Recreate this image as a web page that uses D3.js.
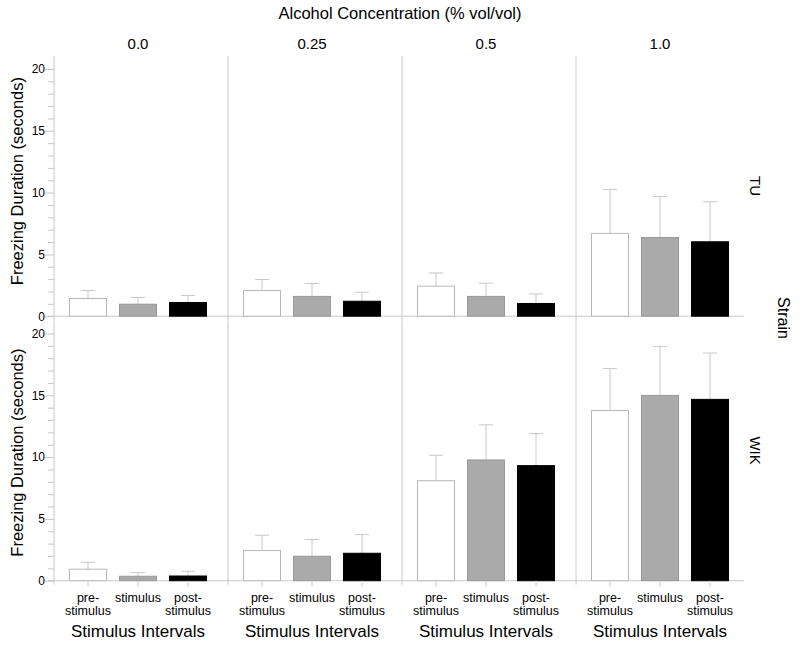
<!DOCTYPE html>
<html>
<head>
<meta charset="utf-8">
<script src="https://cdn.jsdelivr.net/npm/d3@7"></script>
<style>
body{margin:0;background:#fff;}
svg{font-family:"Liberation Sans",Arial,sans-serif;}
</style>
</head>
<body>
<div id="grafico"></div>
<script>

// DATOS
const concentraciones = ["0.0","0.25","0.5","1.0"];
const cepas = ["TU","WIK"];
const intervalos = ["pre-stimulus","stimulus","post-stimulus"];
const etiquetasIntervalos = [["pre-","stimulus"],["stimulus"],["post-","stimulus"]];
const marcasY = [0,5,10,15,20];

// medias (segundos) por concentracion, orden pre / stimulus / post
const mediasTU = [
[1.43,0.97,1.11],
[2.08,1.60,1.21],
[2.43,1.60,1.03],
[6.70,6.37,6.02]
];
const erroresTU = [
[0.65,0.54,0.57],
[0.89,1.05,0.73],
[1.07,1.07,0.77],
[3.56,3.32,3.24]
];
const mediasWIK = [
[0.93,0.36,0.38],
[2.44,1.98,2.22],
[8.09,9.77,9.31],
[13.77,14.99,14.67]
];
const erroresWIK = [
[0.56,0.29,0.38],
[1.24,1.35,1.51],
[2.06,2.84,2.59],
[3.39,3.95,3.75]
];

const medias = {TU:mediasTU, WIK:mediasWIK};
const errores = {TU:erroresTU, WIK:erroresWIK};

const rellenos = ["#ffffff","#aaaaaa","#000000"];
const bordes = ["#b8b8b8","#999999","#000000"];
const gris = "#c8c8c8";

const width = 800;
const height = 645;

const svg = d3.select("#grafico")
.append("svg")
.attr("width",width)
.attr("height",height);

// ESCALAS
const xPanel = d3.scaleBand()
.domain(concentraciones)
.range([54,744])
.paddingInner(6/174);

const yFila = d3.scaleBand()
.domain(cepas)
.range([56,580.7])
.paddingInner(4.3/264.5);

const xBarra = d3.scaleBand()
.domain(intervalos)
.range([0,xPanel.bandwidth()])
.paddingInner(0.24)
.paddingOuter(0.3);

const y = d3.scaleLinear()
.domain([0,21.05])
.range([yFila.bandwidth(),0]);

// TITULOS
svg.append("text")
.attr("x",400)
.attr("y",19)
.attr("text-anchor","middle")
.style("font-size","16.5px")
.text("Alcohol Concentration (% vol/vol)");

svg.selectAll(".conc")
.data(concentraciones)
.enter()
.append("text")
.attr("x",d=>xPanel(d)+xPanel.bandwidth()/2)
.attr("y",49)
.attr("text-anchor","middle")
.style("font-size","15px")
.text(d=>d);

svg.append("text")
.attr("transform","translate(778,318) rotate(90)")
.attr("text-anchor","middle")
.style("font-size","16px")
.text("Strain");

cepas.forEach(cepa=>{

const fila = svg.append("g")
.attr("transform",`translate(0,${yFila(cepa)})`);

// etiqueta de la cepa
fila.append("text")
.attr("transform",`translate(750,${yFila.bandwidth()/2}) rotate(90)`)
.attr("text-anchor","middle")
.style("font-size","15px")
.text(cepa);

// titulo eje y
fila.append("text")
.attr("transform",`translate(22.5,${yFila.bandwidth()/2 + (cepa==="TU" ? -5 : 2)}) rotate(-90)`)
.attr("text-anchor","middle")
.style("font-size","16.5px")
.text("Freezing Duration (seconds)");

// eje y
const eje = fila.append("g")
.attr("transform",`translate(${xPanel(concentraciones[0])},0)`)
.call(
d3.axisLeft(y)
.tickValues(d3.range(0,21))
.tickSize(6)
.tickSizeOuter(0)
.tickPadding(3)
.tickFormat(d=>marcasY.includes(d) ? d : "")
);

eje.select(".domain").remove();
eje.selectAll(".tick line").attr("stroke",gris);
eje.selectAll(".tick")
.filter(d=>marcasY.includes(d))
.select("line")
.attr("x2",-9);
eje.selectAll(".tick text")
.attr("fill","#000")
.style("font-size","12px")
.style("font-family","'Liberation Sans',Arial,sans-serif");

concentraciones.forEach((conc,i)=>{

const panel = fila.append("g")
.attr("transform",`translate(${xPanel(conc)},0)`);

// linea vertical
panel.append("line")
.attr("x1",0).attr("x2",0)
.attr("y1",0)
.attr("y2",y(0)+4)
.attr("stroke",gris);

// linea base
panel.append("line")
.attr("x1",-6)
.attr("x2",xPanel.bandwidth())
.attr("y1",y(0)).attr("y2",y(0))
.attr("stroke",gris);

const datos = intervalos.map((iv,j)=>({
intervalo:iv,
j:j,
media:medias[cepa][i][j],
error:errores[cepa][i][j]
}));

// barras de error
panel.selectAll(".err")
.data(datos)
.enter()
.append("line")
.attr("x1",d=>xBarra(d.intervalo)+xBarra.bandwidth()/2)
.attr("x2",d=>xBarra(d.intervalo)+xBarra.bandwidth()/2)
.attr("y1",d=>y(d.media))
.attr("y2",d=>y(d.media+d.error))
.attr("stroke",gris);

panel.selectAll(".cap")
.data(datos)
.enter()
.append("line")
.attr("x1",d=>xBarra(d.intervalo)+xBarra.bandwidth()/2-7)
.attr("x2",d=>xBarra(d.intervalo)+xBarra.bandwidth()/2+7)
.attr("y1",d=>y(d.media+d.error))
.attr("y2",d=>y(d.media+d.error))
.attr("stroke",gris);

// barras
panel.selectAll(".barra")
.data(datos)
.enter()
.append("rect")
.attr("x",d=>xBarra(d.intervalo)+0.5)
.attr("y",d=>y(d.media))
.attr("width",xBarra.bandwidth()-1)
.attr("height",d=>y(0)-y(d.media))
.attr("fill",d=>rellenos[d.j])
.attr("stroke",d=>bordes[d.j]);

if(cepa==="WIK"){

// marcas eje x
panel.selectAll(".marca")
.data(datos)
.enter()
.append("line")
.attr("x1",d=>xBarra(d.intervalo)+xBarra.bandwidth()/2)
.attr("x2",d=>xBarra(d.intervalo)+xBarra.bandwidth()/2)
.attr("y1",y(0))
.attr("y2",y(0)+6)
.attr("stroke",gris);

const etiquetas = panel.selectAll(".etq")
.data(datos)
.enter()
.append("text")
.attr("text-anchor","middle")
.style("font-size","12.5px")
.attr("y",y(0)+21.5);

etiquetas.selectAll("tspan")
.data(d=>etiquetasIntervalos[d.j].map(t=>({t:t,x:xBarra(d.intervalo)+xBarra.bandwidth()/2})))
.enter()
.append("tspan")
.attr("x",d=>d.x)
.attr("dy",(d,k)=>k===0 ? 0 : 13)
.text(d=>d.t);

panel.append("text")
.attr("x",xPanel.bandwidth()/2)
.attr("y",y(0)+56.5)
.attr("text-anchor","middle")
.style("font-size","17px")
.text("Stimulus Intervals");

}

});

});

</script>
</body>
</html>
